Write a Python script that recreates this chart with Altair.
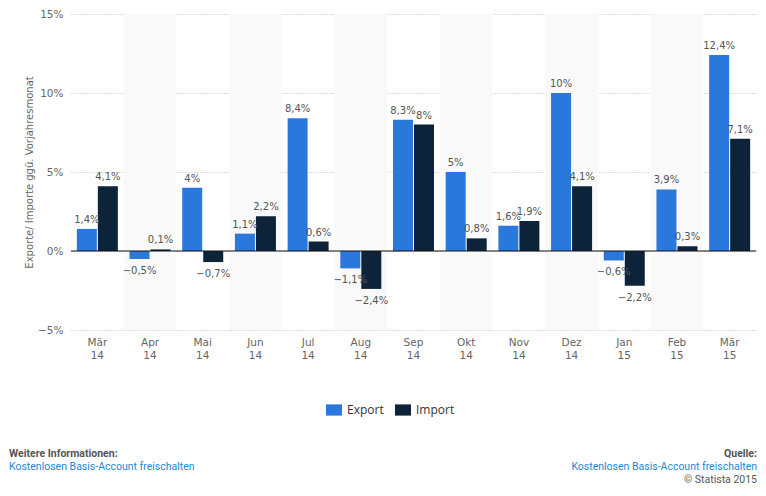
import altair as alt
import pandas as pd

months = ["Mär 14", "Apr 14", "Mai 14", "Jun 14", "Jul 14", "Aug 14", "Sep 14",
          "Okt 14", "Nov 14", "Dez 14", "Jan 15", "Feb 15", "Mär 15"]
export_vals = [1.4, -0.5, 4.0, 1.1, 8.4, -1.1, 8.3, 5.0, 1.6, 10.0, -0.6, 3.9, 12.4]
import_vals = [4.1, 0.1, -0.7, 2.2, 0.6, -2.4, 8.0, 0.8, 1.9, 4.1, -2.2, 0.3, 7.1]
series = ["Export", "Import"]
colors = ["#2b78dc", "#0d233a"]
y_ticks = [-5, 0, 5, 10, 15]
shaded = months[1::2]


def fmt(v):
    s = f"{abs(v):.1f}".replace(".", ",")
    if s.endswith(",0"):
        s = s[:-2]
    return ("−" if v < 0 else "") + s + "%"


rows = []
for m, e, i in zip(months, export_vals, import_vals):
    rows.append({"month": m, "series": "Export", "value": e, "label": fmt(e)})
    rows.append({"month": m, "series": "Import", "value": i, "label": fmt(i)})
df = pd.DataFrame(rows)

W, H = 685, 316
TOP = 6
FONT = "DejaVu Sans"

x_enc = alt.X(
    "month:N",
    sort=months,
    scale=alt.Scale(domain=months, paddingInner=0, paddingOuter=0),
    axis=alt.Axis(
        title=None, labelAngle=0, domain=False, ticks=False, grid=False,
        labelExpr="split(datum.label, ' ')", labelFont=FONT, labelFontSize=10.5,
        labelColor="#666666", labelPadding=7, labelLineHeight=13,
    ),
)
y_enc = alt.Y(
    "value:Q",
    scale=alt.Scale(domain=[-5, 15], nice=False, zero=False),
    title="Exporte/ Importe ggü. Vorjahresmonat",
    axis=alt.Axis(
        values=y_ticks, labelExpr="replace(datum.value + '%', '-', '−')",
        domain=False, ticks=False, grid=True, gridDash=[1, 2], gridColor="#b8b8b8",
        labelFont=FONT, labelFontSize=10.5, labelColor="#666666", labelPadding=8,
        titleFont=FONT, titleFontSize=10, titleFontWeight="normal", titleColor="#666666",
        titlePadding=3,
    ),
)
xoff = alt.XOffset(
    "series:N", sort=series,
    scale=alt.Scale(domain=series, paddingInner=0.048, paddingOuter=0.278),
)

bands = alt.Chart(pd.DataFrame({"month": shaded})).mark_rect(color="#f9f9f9").encode(
    x=x_enc, y=alt.value(0), y2=alt.value(H)
)

bars = alt.Chart(df).mark_bar().encode(
    x=x_enc,
    xOffset=xoff,
    y=y_enc,
    y2=alt.datum(0),
    color=alt.Color(
        "series:N",
        scale=alt.Scale(domain=series, range=colors),
        legend=alt.Legend(
            title=None, orient="none", direction="horizontal", legendX=255, legendY=388,
            symbolType="M-1,-0.7L1,-0.7L1,0.7L-1,0.7Z", symbolSize=256, symbolStrokeWidth=0,
            labelFont="Open Sans", labelFontSize=12, labelColor="#333333",
            labelOffset=5, columnPadding=11,
        ),
    ),
)

zero = alt.Chart(pd.DataFrame({"value": [0]})).mark_rule(color="#111111", strokeWidth=1.2).encode(
    y=y_enc
)

pos_text = alt.Chart(df).transform_filter("datum.value >= 0").mark_text(
    baseline="bottom", dy=-4, font=FONT, fontSize=10, color="#555555"
).encode(x=x_enc, xOffset=xoff, y=y_enc, text="label:N")

neg_text = alt.Chart(df).transform_filter("datum.value < 0").mark_text(
    baseline="top", dy=7, font=FONT, fontSize=10, color="#555555"
).encode(x=x_enc, xOffset=xoff, y=y_enc, text="label:N")

FOOT = "Roboto"


def foot(text, x, y, align, color, bold=False):
    return alt.Chart(pd.DataFrame({"t": [text]})).mark_text(
        align=align, baseline="alphabetic", font=FOOT, fontSize=10.5,
        fontWeight="bold" if bold else "normal", color=color,
    ).encode(text="t:N", x=alt.value(x), y=alt.value(y))


footer = [
    foot("Weitere Informationen:", -62, 443, "left", "#555555", True),
    foot("Kostenlosen Basis-Account freischalten", -62, 456, "left", "#1a8ad4"),
    foot("Quelle:", 686, 443, "right", "#555555", True),
    foot("Kostenlosen Basis-Account freischalten", 686, 456, "right", "#1a8ad4"),
    foot("© Statista 2015", 686, 469, "right", "#555555"),
]

chart = alt.layer(bands, bars, zero, pos_text, neg_text, *footer).properties(
    width=W, height=H,
    padding={"left": 63, "top": TOP, "right": 2, "bottom": 480 - TOP - H},
    autosize=alt.AutoSizeParams(type="none"),
).configure_view(stroke=None)

chart.save("out.html", embed_options={"renderer": "svg", "actions": False})
